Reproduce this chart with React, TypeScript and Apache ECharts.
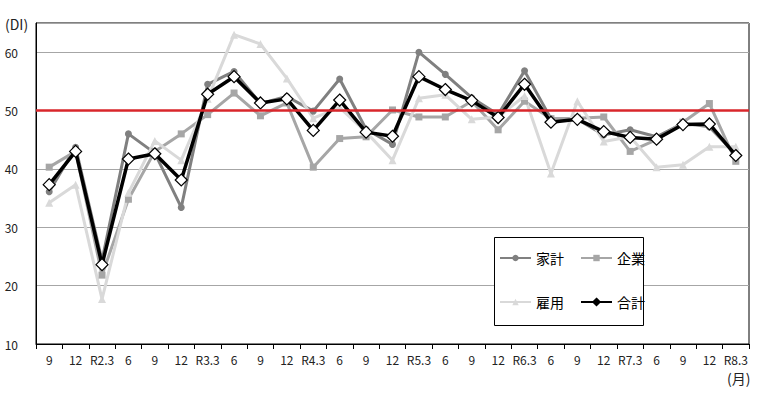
import React, { useEffect, useRef } from "react";
import * as echarts from "echarts";

const categories = ["9", "12", "R2.3", "6", "9", "12", "R3.3", "6", "9", "12", "R4.3", "6", "9", "12", "R5.3", "6", "9", "12", "R6.3", "6", "9", "12", "R7.3", "6", "9", "12", "R8.3"];
const kakei = [36.1, 43.7, 24.3, 46.0, 42.7, 33.4, 54.5, 56.7, 51.2, 52.4, 49.9, 55.4, 46.8, 44.2, 60.0, 56.2, 52.2, 49.3, 56.8, 48.6, 48.5, 45.8, 46.7, 45.5, 47.8, 47.2, 42.5];
const kigyo = [40.3, 43.0, 21.8, 34.8, 43.0, 46.0, 49.3, 53.0, 49.1, 51.3, 40.3, 45.2, 45.5, 50.1, 48.9, 48.9, 51.6, 46.7, 51.6, 48.6, 48.7, 48.9, 43.0, 45.0, 48.0, 51.2, 41.3];
const koyo = [34.2, 37.3, 17.7, 35.9, 44.8, 41.5, 52.0, 63.0, 61.4, 55.5, 48.7, 50.5, 46.3, 41.5, 52.1, 52.7, 48.5, 48.9, 52.5, 39.2, 51.6, 44.7, 45.5, 40.3, 40.7, 43.8, 43.8];
const gokei = [37.3, 43.0, 23.6, 41.7, 42.6, 38.1, 52.8, 55.8, 51.3, 52.0, 46.6, 51.8, 46.3, 45.6, 55.8, 53.6, 51.7, 48.8, 54.5, 48.0, 48.5, 46.4, 45.4, 45.1, 47.6, 47.7, 42.3];
const yTicks = { min: 10, max: 65, interval: 10 };
const baseline = 50;

const FONT = "'Noto Sans CJK JP', 'Noto Sans', sans-serif";

export default function App() {
  const ref = useRef<HTMLDivElement>(null);
  useEffect(() => {
    document.body.style.margin = "0";
    if (!ref.current) return;
    const chart = echarts.init(ref.current, null, { renderer: "svg" });
    const lineSeries = (name: string, data: number[], color: string, symbol: string, size: number) => ({
      name,
      type: "line",
      data,
      symbol,
      symbolSize: size,
      color,
      lineStyle: { color, width: 3 },
      itemStyle: { color },
      z: 2,
    });
    chart.setOption({
      animation: false,
      textStyle: { fontFamily: FONT },
      grid: {
        left: 36,
        right: 23,
        top: 23,
        bottom: 50,
        containLabel: false,
        show: true,
        borderColor: "#000",
        borderWidth: 1,
        backgroundColor: "transparent",
      },
      legend: [
        {
          data: ["家計", "企業"],
          left: 499,
          top: 251,
          itemWidth: 31,
          itemHeight: 8,
          itemGap: 16,
          padding: 0,
          textStyle: { fontSize: 14, color: "#000", fontFamily: FONT },
          z: 10,
        },
        {
          data: ["雇用", { name: "合計", itemStyle: { color: "#000", borderColor: "#000" } }],
          left: 499,
          top: 295,
          itemWidth: 31,
          itemHeight: 8,
          itemGap: 16,
          padding: 0,
          textStyle: { fontSize: 14, color: "#000", fontFamily: FONT },
          z: 10,
        },
      ],
      xAxis: {
        type: "category",
        data: categories,
        boundaryGap: true,
        axisLine: { show: true, lineStyle: { color: "#000", width: 1 } },
        axisTick: { show: true, length: 5, lineStyle: { color: "#000" } },
        axisLabel: { fontSize: 12, color: "#222", margin: 9, interval: 0, fontFamily: FONT },
      },
      yAxis: {
        type: "value",
        min: yTicks.min,
        max: yTicks.max,
        interval: yTicks.interval,
        axisLine: { show: true, lineStyle: { color: "#000", width: 1 } },
        axisTick: { show: false },
        axisLabel: {
          fontSize: 12,
          color: "#222",
          margin: 18,
          fontFamily: FONT,
          formatter: (v: number) => (v === 65 ? "" : String(v)),
        },
        splitLine: { show: true, lineStyle: { color: "#a6a6a6", width: 1 } },
      },
      series: [
        lineSeries("家計", kakei, "#808080", "circle", 7),
        lineSeries("企業", kigyo, "#a6a6a6", "rect", 7),
        lineSeries("雇用", koyo, "#d9d9d9", "triangle", 8),
        {
          name: "合計",
          type: "line",
          data: gokei,
          symbol: "diamond",
          symbolSize: 12,
          color: "#000",
          lineStyle: { color: "#000", width: 3.5 },
          itemStyle: { color: "#fff", borderColor: "#000", borderWidth: 1.2 },
          z: 3,
          markLine: {
            silent: true,
            symbol: ["none", "none"],
            label: { show: false },
            lineStyle: { color: "#d9262b", width: 2.5, type: "solid" },
            data: [{ yAxis: baseline }],
            z: 4,
          },
        },
      ],
      graphic: [
        {
          type: "rect",
          shape: { x: 494.5, y: 237.5, width: 149, height: 88 },
          style: { fill: "#fff", stroke: "#000", lineWidth: 1 },
          z: 5,
        },
        {
          type: "text",
          x: 5,
          y: 24,
          style: {
            text: "(DI)",
            fill: "#222",
            font: `14px ${FONT}`,
            textAlign: "left",
            textVerticalAlign: "middle",
            verticalAlign: "middle",
          },
        },
        {
          type: "text",
          x: 727,
          y: 378,
          style: {
            text: "(月)",
            fill: "#222",
            font: `14px ${FONT}`,
            textAlign: "left",
            textVerticalAlign: "middle",
            verticalAlign: "middle",
          },
        },
      ],
    });
    return () => chart.dispose();
  }, []);
  return <div ref={ref} style={{ width: 772, height: 394 }} />;
}
